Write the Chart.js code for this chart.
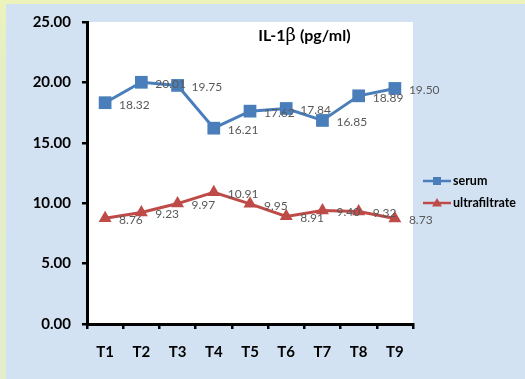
<!DOCTYPE html>
<html>
<head>
<meta charset="utf-8">
<script src="https://cdn.jsdelivr.net/npm/chart.js@4/dist/chart.umd.min.js"></script>
<style>
  html, body { margin: 0; padding: 0; }
  body {
    width: 525px; height: 379px; overflow: hidden;
    background: linear-gradient(180deg, #eef3bc 0px, #e4efc6 60px, #e2edcc 379px);
  }
  #panel {
    position: absolute; left: 6px; top: 4px; right: 0; bottom: 0;
    background: #d3e2f3;
  }
  #wrap { position: absolute; left: 0; top: 0; width: 525px; height: 379px; }
</style>
</head>
<body>
<div id="panel"></div>
<div id="wrap"><canvas id="c" width="525" height="379"></canvas></div>
<script>
// Sampling times
const categories = ['T1', 'T2', 'T3', 'T4', 'T5', 'T6', 'T7', 'T8', 'T9'];
// IL-1β concentrations (pg/ml)
const serumValues = [18.32, 20.01, 19.75, 16.21, 17.62, 17.84, 16.85, 18.89, 19.50];
const ultrafiltrateValues = [8.76, 9.23, 9.97, 10.91, 9.95, 8.91, 9.40, 9.32, 8.73];
// Value axis ticks
const yTicks = [0, 5, 10, 15, 20, 25];

const seriesNames = ['serum', 'ultrafiltrate'];
const BLUE = '#4a7ebb';
const RED = '#be4b48';
const FONT = 'Lato, "Liberation Sans", sans-serif';

// White plotting surface behind the lines
const plotBackground = {
  id: 'plotBackground',
  beforeDraw(chart) {
    const a = chart.chartArea, ctx = chart.ctx;
    ctx.save();
    ctx.fillStyle = '#ffffff';
    ctx.fillRect(a.left, a.top, a.right - a.left, a.bottom - a.top);
    ctx.restore();
  }
};

// Value labels to the lower right of each marker
const valueLabels = {
  id: 'valueLabels',
  afterDatasetsDraw(chart) {
    const ctx = chart.ctx;
    ctx.save();
    ctx.font = '12px ' + FONT;
    ctx.fillStyle = '#595959';
    ctx.textAlign = 'left';
    ctx.textBaseline = 'middle';
    chart.data.datasets.forEach((ds, i) => {
      chart.getDatasetMeta(i).data.forEach((pt, j) => {
        ctx.fillText(Number(ds.data[j]).toFixed(2), pt.x + 14, pt.y + 2);
      });
    });
    ctx.restore();
  }
};

// Title inside the plot, with a serif beta
const plotTitle = {
  id: 'plotTitle',
  afterDraw(chart) {
    const a = chart.chartArea, ctx = chart.ctx;
    const parts = [
      { t: 'IL-1', f: 'bold 16px ' + FONT },
      { t: 'β', f: '18px "DejaVu Serif", serif' },
      { t: ' (pg/ml)', f: 'bold 16px ' + FONT }
    ];
    ctx.save();
    let total = 0;
    parts.forEach(p => { ctx.font = p.f; p.w = ctx.measureText(p.t).width; total += p.w; });
    let x = a.left + (a.right - a.left) * 0.667 - total / 2;
    const y = a.top + 14;
    ctx.fillStyle = '#000';
    ctx.textAlign = 'left';
    ctx.textBaseline = 'middle';
    parts.forEach(p => { ctx.font = p.f; ctx.fillText(p.t, x, y); x += p.w; });
    ctx.restore();
  }
};

// Legend to the right of the plot: line segment with marker, then name
const sideLegend = {
  id: 'sideLegend',
  afterDraw(chart) {
    const a = chart.chartArea, ctx = chart.ctx;
    ctx.save();
    chart.data.datasets.forEach((ds, i) => {
      const y = 181 + i * 22;
      const x0 = a.right + 10, x1 = a.right + 38, xm = (x0 + x1) / 2;
      ctx.strokeStyle = ds.borderColor;
      ctx.lineWidth = 2.5;
      ctx.beginPath(); ctx.moveTo(x0, y); ctx.lineTo(x1, y); ctx.stroke();
      ctx.fillStyle = ds.backgroundColor;
      ctx.beginPath();
      if (ds.pointStyle === 'rect') {
        ctx.rect(xm - 4, y - 4, 8, 8);
      } else {
        ctx.moveTo(xm, y - 5); ctx.lineTo(xm + 5, y + 3.5); ctx.lineTo(xm - 5, y + 3.5); ctx.closePath();
      }
      ctx.fill();
      ctx.fillStyle = '#000';
      ctx.font = 'bold 12.5px ' + FONT;
      ctx.textAlign = 'left';
      ctx.textBaseline = 'middle';
      ctx.fillText(ds.label, x1 + 2, y);
    });
    ctx.restore();
  }
};

const tickGrid = {
  display: true,
  drawOnChartArea: false,
  drawTicks: true,
  tickLength: 5,
  color: '#000',
  lineWidth: 2.5
};

new Chart(document.getElementById('c'), {
  type: 'line',
  data: {
    labels: categories,
    datasets: [
      {
        label: seriesNames[0],
        data: serumValues,
        borderColor: BLUE,
        backgroundColor: BLUE,
        borderWidth: 3,
        pointStyle: 'rect',
        pointRadius: 9,
        pointBorderWidth: 0,
        tension: 0
      },
      {
        label: seriesNames[1],
        data: ultrafiltrateValues,
        borderColor: RED,
        backgroundColor: RED,
        borderWidth: 3,
        pointStyle: 'triangle',
        pointRadius: 7.5,
        pointBorderWidth: 0,
        tension: 0
      }
    ]
  },
  options: {
    responsive: false,
    animation: false,
    devicePixelRatio: 1,
    layout: { padding: { top: 22, right: 112, left: 0, bottom: 0 } },
    plugins: {
      legend: { display: false },
      title: { display: false },
      tooltip: { enabled: false }
    },
    scales: {
      x: {
        type: 'category',
        offset: true,
        grid: Object.assign({ offset: true }, tickGrid),
        border: { display: true, color: '#000', width: 3 },
        ticks: {
          color: '#000',
          font: { family: FONT, size: 15, weight: 'bold' },
          padding: 14,
          maxRotation: 0
        },
        afterFit(scale) { scale.height = 55; }
      },
      y: {
        min: yTicks[0],
        max: yTicks[yTicks.length - 1],
        afterBuildTicks(scale) { scale.ticks = yTicks.map(v => ({ value: v })); },
        grid: tickGrid,
        border: { display: true, color: '#000', width: 3 },
        ticks: {
          color: '#000',
          font: { family: FONT, size: 15, weight: 'bold' },
          padding: 11,
          callback: v => Number(v).toFixed(2)
        },
        afterFit(scale) { scale.width = 87; }
      }
    }
  },
  plugins: [plotBackground, valueLabels, plotTitle, sideLegend]
});
</script>
</body>
</html>
